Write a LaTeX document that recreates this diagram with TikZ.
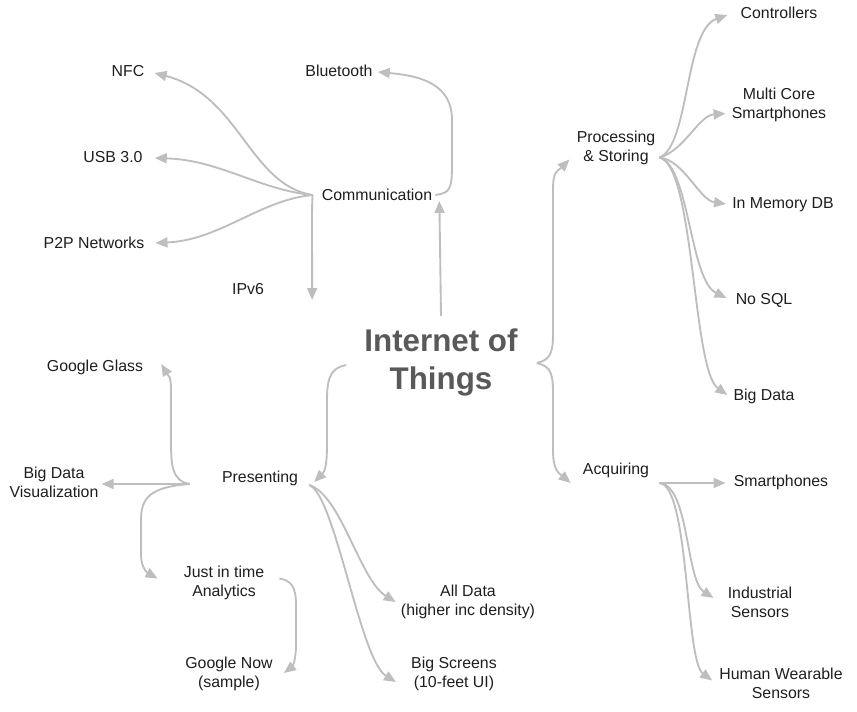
\documentclass[tikz,border=0pt]{standalone}
\usepackage{fontspec}
\setmainfont{Liberation Sans}
\usetikzlibrary{arrows.meta,calc}
\definecolor{linegray}{RGB}{190,190,190}
\definecolor{textdark}{RGB}{30,30,30}
\definecolor{titlegray}{RGB}{89,89,89}
\tikzset{
    line/.style  = {-{Triangle[length=9pt,width=7.5pt]}, line width=1.4pt, draw=linegray},
    leaf/.style  = {text=textdark, font=\fontsize{11.9}{14.25}\selectfont,
            align=center, inner sep=0pt},
    topic/.style = {text=titlegray, font=\fontsize{23.5}{28.5}\selectfont\bfseries,
            align=center, inner sep=0pt},
}

\begin{document}
\begin{tikzpicture}[x=0.75pt,y=-0.75pt]
    \useasboundingbox (0,0) rectangle (857,711);
    % Nodes
    \node[topic] (iot) at (441,362) {Internet of\\Things};
    \node[leaf] (comm) at (377,195) {Communication};
    \node[leaf] (bt) at (339,71) {Bluetooth};
    \node[leaf] (nfc) at (128,71) {NFC};
    \node[leaf] (usb) at (113,157) {USB 3.0};
    \node[leaf] (p2p) at (94,243) {P2P Networks};
    \node[leaf] (ipv6) at (248,289) {IPv6};
    \node[leaf] (proc) at (616,147.5) {Processing\\\& Storing};
    \node[leaf] (ctrl) at (779,13) {Controllers};
    \node[leaf] (multi) at (779,104.5) {Multi Core\\Smartphones};
    \node[leaf] (inmem) at (783,205) {In Memory DB};
    \node[leaf] (nosql) at (764,300) {No SQL};
    \node[leaf] (bigdata) at (764,396) {Big Data};
    \node[leaf] (acq) at (616,470) {Acquiring};
    \node[leaf] (smart) at (781,482) {Smartphones};
    \node[leaf] (indus) at (760,602) {Industrial\\Sensors};
    \node[leaf] (human) at (781,683.5) {Human Wearable\\Sensors};
    \node[leaf] (pres) at (260,478) {Presenting};
    \node[leaf] (glass) at (95,367) {Google Glass};
    \node[leaf] (bdviz) at (54,482.5) {Big Data\\Visualization};
    \node[leaf] (jit) at (224,582.5) {Just in time\\Analytics};
    \node[leaf] (gnow) at (229,674) {Google Now\\(sample)};
    \node[leaf] (alldata) at (468,602) {All Data\\(higher inc density)};
    \node[leaf] (screens) at (454,674) {Big Screens\\(10-feet UI)};

    % Hubs
    \coordinate (iotL) at ($(iot.west)+(-18,3)$);
    \coordinate (iotR) at ($(iot.east)+(19,1)$);
    \coordinate (commL) at ($(comm.west)+(-9,0)$);
    \coordinate (commR) at ($(comm.east)+(3,0)$);
    \coordinate (procR) at ($(proc.east)+(4,10)$);
    \coordinate (acqR) at ($(acq.east)+(10,13)$);
    \coordinate (presL) at ($(pres.west)+(-32,6)$);
    \coordinate (presR) at ($(pres.east)+(11,7)$);

    % Arrows from the topic
    \draw[line] ($(iot.north)+(0,-12)$) -- ($(comm.east)+(7,6)$);
    \draw[line] (iotR) .. controls +(12,-3) and +(0,20) .. (553,335) -- (553,190)
        .. controls +(0,-20) and +(-12,12) .. ($(proc.west)+(-7,12)$);
    \draw[line] (iotR) .. controls +(12,3) and +(0,-20) .. (553,391) -- (553,450)
        .. controls +(0,20) and +(-12,-10) .. ($(acq.west)+(-12,13)$);
    \draw[line] (iotL) .. controls +(-14,3) and +(0,-25) .. (327,400) -- (327,445)
        .. controls +(0,22) and +(10,-10) .. ($(pres.east)+(16,4)$);

    % Communication
    \draw[line] (commL) .. controls +(-63,-10) and +(85,22) .. ($(nfc.east)+(10,2)$);
    \draw[line] (commL) .. controls +(-53,-5) and +(65,2) .. ($(usb.east)+(12,1)$);
    \draw[line] (commL) .. controls +(-53,5) and +(65,-3) .. ($(p2p.east)+(11,0)$);
    \draw[line] (commL) .. controls +(-1,10) and +(0,-60) .. ($(ipv6.east)+(48,11)$);
    \draw[line] (commR) .. controls +(14,-2) and +(0,25) .. (452,165) -- (452,120)
        .. controls +(0,-35) and +(45,4) .. ($(bt.east)+(5,1)$);

    % Processing & Storing
    \draw[line] (procR) .. controls +(30,-12) and +(-43,15) .. ($(ctrl.west)+(-13,2)$);
    \draw[line] (procR) .. controls +(25,-7) and +(-27,2) .. ($(multi.west)+(-6,9)$);
    \draw[line] (procR) .. controls +(25,3) and +(-27,-4) .. ($(inmem.west)+(-6,-1)$);
    \draw[line] (procR) .. controls +(30,8) and +(-37,-18) .. ($(nosql.west)+(-9,-2)$);
    \draw[line] (procR) .. controls +(35,8) and +(-35,-25) .. ($(bigdata.west)+(-6,-1)$);

    % Acquiring
    \draw[line] (acqR) -- ($(smart.west)+(-8,1)$);
    \draw[line] (acqR) .. controls +(30,2) and +(-28,-18) .. ($(indus.west)+(-14,-4)$);
    \draw[line] (acqR) .. controls +(30,2) and +(-27,-20) .. ($(human.west)+(-7,-3)$);

    % Presenting
    \draw[line] (presL) .. controls +(-18,-3) and +(0,25) .. (171,440) -- (171,390)
        .. controls +(0,-15) and +(7,12) .. ($(glass.east)+(18,-3)$);
    \draw[line] (presL) -- ($(bdviz.east)+(3,1.5)$);
    \draw[line] (presL) .. controls +(-40,3) and +(0,-22) .. (141,520) -- (141,555)
        .. controls +(0,14) and +(-9,-5) .. ($(jit.west)+(-26,-4)$);
    \draw[line] (presR) .. controls +(32,10) and +(-36,-22) .. ($(alldata.west)+(-5,0)$);
    \draw[line] (presR) .. controls +(26,10) and +(-36,-22) .. ($(screens.west)+(-15,8)$);
    \draw[line] ($(jit.east)+(15,-4)$) .. controls +(12,2) and +(0,-18) .. (296,605)
        -- (296,645) .. controls +(0,16) and +(8,-6) .. ($(gnow.east)+(11,-1)$);
\end{tikzpicture}
\end{document}
